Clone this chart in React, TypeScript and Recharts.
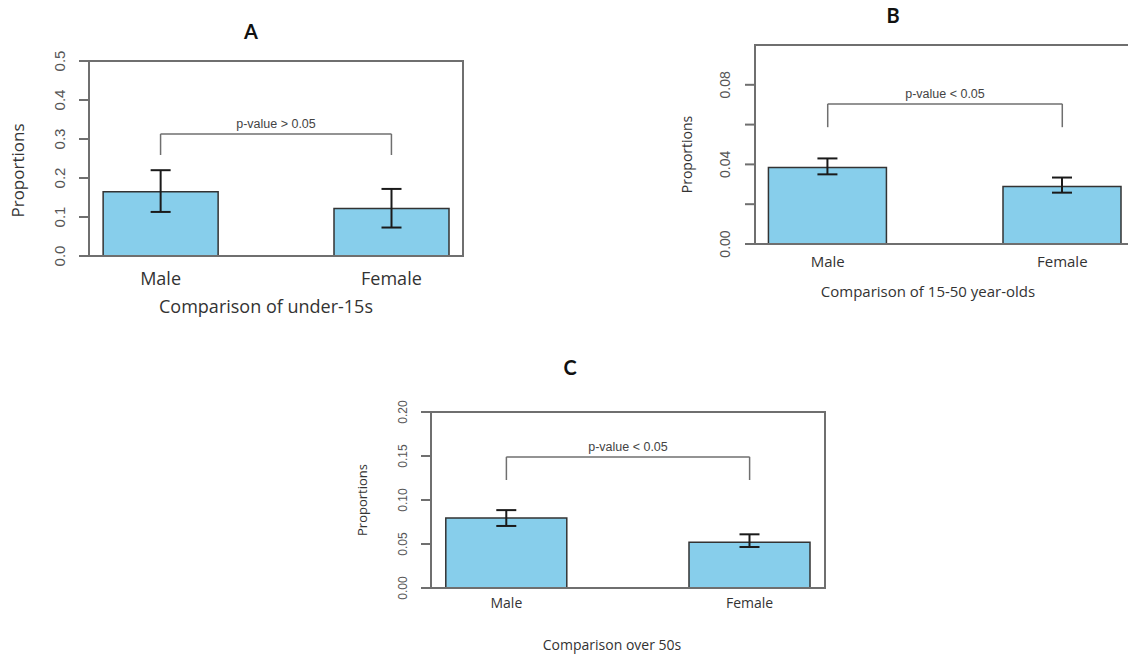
import React from 'react';
import { BarChart, Bar, XAxis, YAxis, ErrorBar, ReferenceLine, ReferenceArea } from 'recharts';

const groups = ['Male', 'Female'];

// A: under-15s
const under15 = [0.165, 0.122];
const under15Err = [[0.052, 0.055], [0.049, 0.05]];
const under15Ticks = [0, 0.1, 0.2, 0.3, 0.4, 0.5];
const under15TickLabels = ['0.0', '0.1', '0.2', '0.3', '0.4', '0.5'];

// B: 15-50 year-olds
const adults = [0.0385, 0.0289];
const adultsErr = [[0.0035, 0.0045], [0.0031, 0.0045]];
const adultsTicks = [0, 0.02, 0.04, 0.06, 0.08];
const adultsTickLabels = ['0.00', '', '0.04', '', '0.08'];

// C: over 50s
const over50 = [0.0795, 0.052];
const over50Err = [[0.009, 0.009], [0.0054, 0.009]];
const over50Ticks = [0, 0.05, 0.1, 0.15, 0.2];
const over50TickLabels = ['0.00', '0.05', '0.10', '0.15', '0.20'];

const AXIS = '#6f6f6f';
const BAR_FILL = '#87CEEB';

// R barplot layout: bars at 1-2 and 3-4, xlim extended 4%
const X_DOMAIN = [0.88, 4.12];
const X_TICKS = groups.map((_, i) => 1.5 + 2 * i);

function buildRows(values: number[], errs: number[][]) {
  return groups.map((g, i) => ({ name: g, x: 1.5 + 2 * i, value: values[i], err: errs[i] }));
}

function Panel(props: any) {
  const {
    title, titleX, titleY, left, top, width, height, margin, values, errs, yMax, ticks, tickLabels,
    pText, bracket, barSize, catFont, catDy, xTitle, xTitleFont, xTitleDy, xTitleDx,
    yTitleFont, yTitleGap, yTitleDy, tickFont, tickGap, pFont,
  } = props;
  const rows = buildRows(values, errs);
  const [lo, hi] = bracket;
  return (
    <>
      <div
        style={{
          position: 'absolute', left: titleX - 30, top: titleY - 15, width: 60, height: 30, lineHeight: '30px',
          textAlign: 'center', fontFamily: 'Lato, sans-serif', fontWeight: 700, fontSize: 20, color: '#111',
        }}
      >
        {title}
      </div>
      <div style={{ position: 'absolute', left, top }}>
        <BarChart width={width} height={height} data={rows} margin={margin}>
          <XAxis
            type="number"
            dataKey="x"
            domain={X_DOMAIN}
            ticks={X_TICKS}
            allowDataOverflow
            tickLine={false}
            tickSize={0}
            tickMargin={0}
            height={60}
            axisLine={{ stroke: AXIS, strokeWidth: 2 }}
            tick={(p: any) => (
              <text x={p.x} y={p.y + catDy} textAnchor="middle" fontSize={catFont} fill="#333" fontFamily="'Open Sans', sans-serif">
                {groups[p.index]}
              </text>
            )}
            label={(p: any) => {
              const vb = p.viewBox;
              return (
                <text x={vb.x + vb.width / 2 + xTitleDx} y={vb.y + xTitleDy} textAnchor="middle" fontSize={xTitleFont} fill="#333" fontFamily="'Open Sans', sans-serif">
                  {xTitle}
                </text>
              );
            }}
          />
          <YAxis
            type="number"
            domain={[0, yMax]}
            ticks={ticks}
            allowDataOverflow
            width={50}
            tickSize={10}
            tickMargin={0}
            tickLine={{ stroke: AXIS, strokeWidth: 2 }}
            axisLine={{ stroke: AXIS, strokeWidth: 2 }}
            tick={(p: any) => {
              const tx = p.x - tickGap;
              return (
                <text x={tx} y={p.y} transform={`rotate(-90 ${tx} ${p.y})`} textAnchor="middle" fontSize={tickFont} fill="#555" fontFamily="'Liberation Sans', Arial, sans-serif">
                  {tickLabels[p.index]}
                </text>
              );
            }}
            label={(p: any) => {
              const vb = p.viewBox;
              const tx = vb.x + vb.width - yTitleGap;
              const ty = vb.y + vb.height / 2 + yTitleDy;
              return (
                <text x={tx} y={ty} transform={`rotate(-90 ${tx} ${ty})`} textAnchor="middle" fontSize={yTitleFont} fill="#333" fontFamily="'Open Sans', sans-serif">
                  Proportions
                </text>
              );
            }}
          />
          {/* plot frame, like R's box() */}
          <ReferenceArea x1={X_DOMAIN[0]} x2={X_DOMAIN[1]} y1={0} y2={yMax} fill="none" stroke={AXIS} strokeWidth={2} ifOverflow="visible" />
          <Bar dataKey="value" fill={BAR_FILL} stroke="#333" strokeWidth={1.5} barSize={barSize} isAnimationActive={false}>
            <ErrorBar dataKey="err" direction="y" width={10} stroke="#1a1a1a" strokeWidth={2} isAnimationActive={false} />
          </Bar>
          <ReferenceLine segment={[{ x: X_TICKS[0], y: lo }, { x: X_TICKS[0], y: hi }]} stroke={AXIS} strokeWidth={1.5} />
          <ReferenceLine segment={[{ x: X_TICKS[1], y: lo }, { x: X_TICKS[1], y: hi }]} stroke={AXIS} strokeWidth={1.5} />
          <ReferenceLine
            segment={[{ x: X_TICKS[0], y: hi }, { x: X_TICKS[1], y: hi }]}
            stroke={AXIS}
            strokeWidth={1.5}
            label={{ value: pText, position: 'top', fontSize: pFont, fill: '#444', fontFamily: "'Liberation Sans', Arial, sans-serif", offset: 6 }}
          />
        </BarChart>
      </div>
    </>
  );
}

export default function App() {
  return (
    <div style={{ position: 'absolute', left: 0, top: 0, width: 1128, height: 655, overflow: 'hidden', background: '#fff' }}>
      <Panel
        title="A" titleX={251} titleY={31}
        left={0} top={0} width={480} height={330}
        margin={{ top: 61, right: 17, left: 39, bottom: 14 }}
        values={under15} errs={under15Err} yMax={0.5} ticks={under15Ticks} tickLabels={under15TickLabels}
        pText="p-value > 0.05" bracket={[0.259, 0.313]} barSize={115}
        catFont={18} catDy={29} xTitle="Comparison of under-15s" xTitleFont={18} xTitleDy={57} xTitleDx={-10}
        yTitleFont={17} yTitleGap={65} yTitleDy={12} tickFont={15} tickGap={14} pFont={12.5}
      />
      <Panel
        title="B" titleX={893} titleY={15}
        left={660} top={0} width={490} height={320}
        margin={{ top: 45, right: 15, left: 45, bottom: 16 }}
        values={adults} errs={adultsErr} yMax={0.1} ticks={adultsTicks} tickLabels={adultsTickLabels}
        pText="p-value < 0.05" bracket={[0.0587, 0.0704]} barSize={118}
        catFont={15} catDy={23} xTitle="Comparison of 15-50 year-olds" xTitleFont={15} xTitleDy={53} xTitleDx={-17}
        yTitleFont={14} yTitleGap={63} yTitleDy={10} tickFont={14} tickGap={15} pFont={12.5}
      />
      <Panel
        title="C" titleX={570} titleY={367}
        left={340} top={350} width={500} height={305}
        margin={{ top: 62, right: 15, left: 41, bottom: 7 }}
        values={over50} errs={over50Err} yMax={0.2} ticks={over50Ticks} tickLabels={over50TickLabels}
        pText="p-value < 0.05" bracket={[0.1227, 0.149]} barSize={121}
        catFont={14} catDy={20} xTitle="Comparison over 50s" xTitleFont={14} xTitleDy={62} xTitleDx={-16}
        yTitleFont={13} yTitleGap={64} yTitleDy={0} tickFont={12} tickGap={14} pFont={12.5}
      />
    </div>
  );
}
